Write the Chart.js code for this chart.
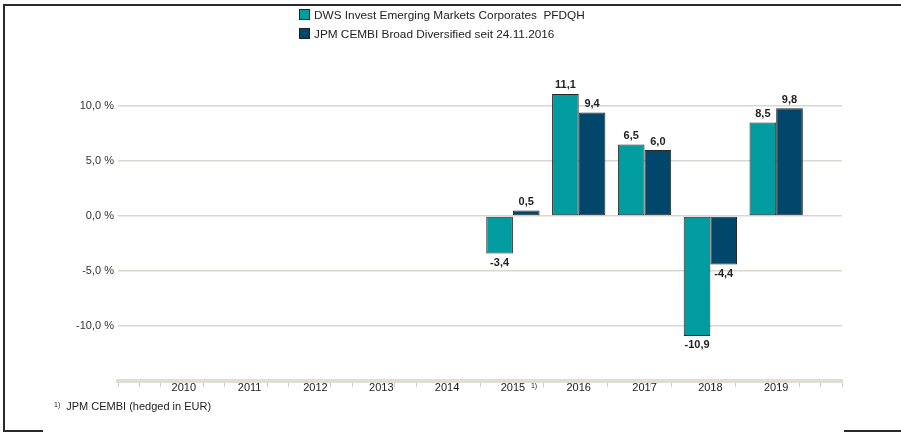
<!DOCTYPE html>
<html>
<head>
<meta charset="utf-8">
<script src="https://cdn.jsdelivr.net/npm/chart.js@4"></script>
<style>
  body { margin: 0; background: #fff; font-family: "Liberation Sans", Arial, sans-serif; }
  #wrap { position: relative; width: 901px; height: 433px; overflow: hidden; }
  canvas { position: absolute; left: 0; top: 0; }
  .frame { position: absolute; background: #2a2a2a; }
  .legend { position: absolute; left: 299px; top: 6px; font-size: 11.8px; color: #222; }
  .legend div { height: 19px; line-height: 19px; white-space: pre; }
  .legend span.box { display: inline-block; width: 9px; height: 9px; border: 1px solid #222; vertical-align: -1px; margin-right: 4px; }
  .note { position: absolute; left: 54px; top: 400px; font-size: 11px; color: #222; white-space: pre; }
  .note sup { font-size: 7px; vertical-align: 3px; margin-right: 6px; }
</style>
</head>
<body>
<div id="wrap">
  <canvas id="chart" width="901" height="433"></canvas>
  <div class="frame" style="left:3px;top:4px;width:898px;height:1.5px"></div>
  <div class="frame" style="left:3px;top:4px;width:1.5px;height:428px"></div>
  <div class="frame" style="left:3px;top:430px;width:40px;height:1.5px"></div>
  <div class="frame" style="left:844px;top:430px;width:57px;height:1.5px"></div>
  <div class="legend" id="legend"></div>
  <div class="note"><sup>1)</sup>JPM CEMBI (hedged in EUR)</div>
</div>
<script>
// categories (empty slots at both ends pad the axis)
const years = ['', '2010', '2011', '2012', '2013', '2014', '2015', '2016', '2017', '2018', '2019', ''];
const fundValues = [null, null, null, null, null, null, -3.4, 11.1, 6.5, -10.9, 8.5, null];
const benchValues = [null, null, null, null, null, null, 0.5, 9.4, 6.0, -4.4, 9.8, null];
const seriesNames = ['DWS Invest Emerging Markets Corporates  PFDQH', 'JPM CEMBI Broad Diversified seit 24.11.2016'];
const seriesColors = ['#009ca0', '#00476b'];
const footnoteYear = '2015';

const gridColor = '#dad7cf';
const fmt = v => v.toFixed(1).replace('.', ',');

// html legend, one entry per row
document.getElementById('legend').innerHTML = seriesNames.map((n, i) =>
  '<div><span class="box" style="background:' + seriesColors[i] + '"></span>' + n + '</div>').join('');

const valueLabels = {
  id: 'valueLabels',
  afterDatasetsDraw(chart) {
    const ctx = chart.ctx;
    ctx.save();
    ctx.font = 'bold 11px "Liberation Sans", Arial, sans-serif';
    ctx.fillStyle = '#222';
    ctx.textAlign = 'center';
    chart.data.datasets.forEach((ds, di) => {
      chart.getDatasetMeta(di).data.forEach((bar, i) => {
        const v = ds.data[i];
        if (v === null) return;
        if (v >= 0) {
          ctx.textBaseline = 'bottom';
          ctx.fillText(fmt(v), bar.x, bar.y - 3);
        } else {
          ctx.textBaseline = 'top';
          ctx.fillText(fmt(v), bar.x, bar.y + 4);
        }
      });
    });
    // footnote marker next to the 2015 label
    const xs = chart.scales.x;
    ctx.font = '7px "Liberation Sans", Arial, sans-serif';
    ctx.textAlign = 'left';
    ctx.textBaseline = 'top';
    ctx.fillText('1)', xs.getPixelForValue(years.indexOf(footnoteYear)) + 18, xs.top + 2);
    ctx.restore();
  }
};

new Chart(document.getElementById('chart'), {
  type: 'bar',
  data: {
    labels: years,
    datasets: [
      { label: seriesNames[0], data: fundValues, backgroundColor: seriesColors[0], xAxisID: 'x', yAxisID: 'y' },
      { label: seriesNames[1], data: benchValues, backgroundColor: seriesColors[1], xAxisID: 'x', yAxisID: 'y' }
    ]
  },
  options: {
    responsive: false,
    animation: false,
    layout: { padding: { left: 0, right: 59, top: 51, bottom: 0 } },
    datasets: {
      bar: {
        borderColor: '#262626',
        borderWidth: 1,
        borderSkipped: false,
        categoryPercentage: 0.81,
        barPercentage: 1
      }
    },
    plugins: {
      legend: { display: false },
      tooltip: { enabled: false }
    },
    scales: {
      x2: {
        type: 'linear',
        position: 'bottom',
        weight: 0,
        min: 0,
        max: 33,
        ticks: { display: false, stepSize: 1 },
        border: { display: false },
        grid: {
          drawOnChartArea: false,
          tickLength: 6,
          lineWidth: 1,
          color: c => (c.tick && c.tick.value % 3 === 0 && c.tick.value !== 0 && c.tick.value !== 33) ? 'rgba(0,0,0,0)' : '#cfcbc2'
        },
        afterFit: s => { s.height = 0; }
      },
      x: {
        type: 'category',
        position: 'bottom',
        weight: 1,
        offset: false,
        grid: { drawOnChartArea: false, drawTicks: false },
        border: { display: true, color: '#e0ddd5', width: 4 },
        ticks: { color: '#222', font: { size: 11 }, padding: 0, autoSkip: false, maxRotation: 0 },
        afterFit: s => { s.height = 52; }
      },
      y: {
        min: -15,
        max: 15,
        ticks: {
          stepSize: 5,
          color: '#333',
          font: { size: 11 },
          padding: 4,
          callback: v => Math.abs(v) === 15 ? '' : fmt(v) + ' %'
        },
        grid: {
          drawTicks: false,
          lineWidth: 1.5,
          color: c => (c.tick && Math.abs(c.tick.value) === 15) ? 'rgba(0,0,0,0)' : gridColor
        },
        border: { display: false },
        afterFit: s => { s.width = 118; }
      }
    }
  },
  plugins: [valueLabels]
});
</script>
</body>
</html>
